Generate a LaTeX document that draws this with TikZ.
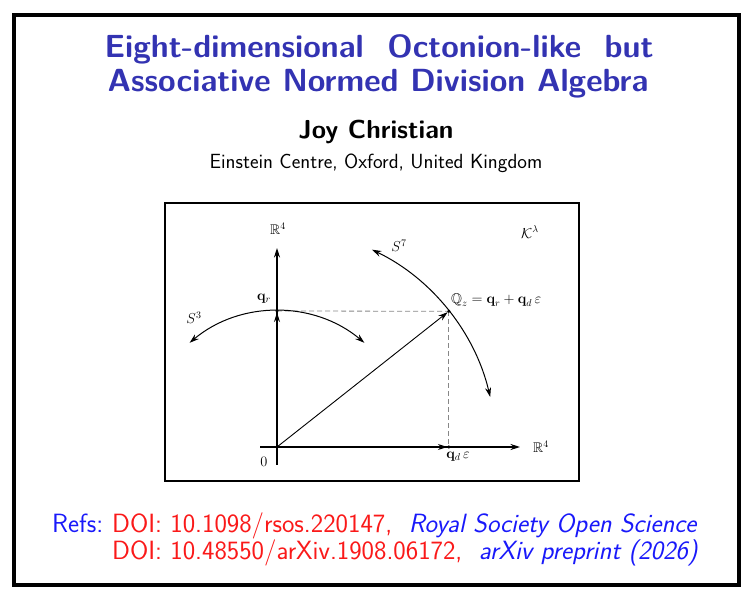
\documentclass[tikz,border=0pt]{standalone}
\usepackage{amsmath,amssymb}
\usetikzlibrary{arrows.meta,calc}
\definecolor{titleblue}{RGB}{51,51,178}
\definecolor{refblue}{RGB}{25,25,250}
\definecolor{refred}{RGB}{250,25,25}
\definecolor{guide}{RGB}{135,135,135}

\begin{document}
\begin{tikzpicture}[
  x=1pt,
  y=1pt,
  >={Stealth[length=9.5pt,width=6pt]},
  outerframe/.style={draw=black, line width=4pt},
  panel/.style={draw=black, line width=2.6pt},
  axisline/.style={draw=black, line width=1.4pt, ->},
  vector/.style={draw=black, line width=0.9pt, ->},
  sphere/.style={draw=black, line width=1pt, <->},
  guideline/.style={draw=guide, line width=0.8pt, dash pattern=on 5pt off 3pt},
  point/.style={circle, fill=black, inner sep=0pt, minimum size=3.5pt},
  mathlabel/.style={font=\fontsize{14}{16}\selectfont, inner sep=0pt},
  titleline/.style={text=titleblue, anchor=base, inner sep=0pt,
    font=\fontsize{32}{36}\selectfont\sffamily\bfseries},
  authorline/.style={anchor=base, inner sep=0pt,
    font=\fontsize{26}{29}\selectfont\sffamily\bfseries},
  placeline/.style={anchor=base, inner sep=0pt,
    font=\fontsize{20.5}{24}\selectfont\sffamily},
  refline/.style={anchor=base west, inner sep=0pt,
    font=\fontsize{26.4}{30}\selectfont\sffamily}
]
  \useasboundingbox (0,0) rectangle (753,600);
  \def\rthree{136}
  \def\rseven{219}

  % Slide frame and heading.
  \draw[outerframe] (14,14.5) rectangle (739,585);
  \node[titleline] (titleA) at (379,542) {Eight-dimensional\ \ Octonion-like\ \ but};
  \node[titleline] (titleB) at (378,508) {Associative Normed Division Algebra};
  \node[authorline] (author) at (376,461) {Joy Christian};
  \node[placeline] (place) at (376,431) {Einstein Centre, Oxford, United Kingdom};

  % Figure panel.
  \draw[panel] (165,397) rectangle (579,119);

  \coordinate (O) at (277,153);
  \coordinate (ybot) at (277,135);
  \coordinate (ytop) at (277,352);
  \coordinate (xleft) at (260,153);
  \coordinate (xright) at (520,153);
  \coordinate (qr) at ($(O)+(90:\rthree)$);
  \coordinate (Qz) at ($(O)+(38.3:\rseven)$);
  \coordinate (qd) at (Qz |- O);
  \coordinate (s3start) at ($(O)+(130:\rthree)$);
  \coordinate (s7start) at ($(O)+(64.3:\rseven)$);

  % Axes.
  \draw[axisline] (ybot) -- (ytop);
  \draw[axisline] (xleft) -- (xright);

  % Projections of the point.
  \draw[guideline] (qr) -- (Qz);
  \draw[guideline] (Qz) -- (qd);

  % Spheres.
  \draw[sphere] (s3start) arc[start angle=130, end angle=50, radius=\rthree];
  \draw[sphere] (s7start) arc[start angle=64.3, end angle=13.2, radius=\rseven];

  % Vectors.
  \draw[vector,shorten >=1.5pt] (O) -- (qr);
  \draw[vector,shorten >=1.5pt] (O) -- (qd);
  \draw[vector,shorten >=1.5pt] (O) -- (Qz);
  \node[point] (dotqr) at (qr) {};
  \node[point] (dotQz) at (Qz) {};
  \node[point] (dotqd) at (qd) {};

  % Labels.
  \node[mathlabel] (lblRup) at (278,371) {$\mathbb{R}^4$};
  \node[mathlabel] (lblRright) at (541,153) {$\mathbb{R}^4$};
  \node[mathlabel] (lblzero) at (264,138) {$0$};
  \node[mathlabel] (lblqr) at (264,301) {$\mathbf{q}_r$};
  \node[mathlabel] (lblS3) at (194,282) {$S^3$};
  \node[mathlabel] (lblS7) at (399,354) {$S^7$};
  \node[mathlabel] (lblK) at (530,368) {$\mathcal{K}^{\lambda}$};
  \node[mathlabel,anchor=base west] (lblQz) at (451,296)
    {$\mathbb{Q}_z=\mathbf{q}_r+\mathbf{q}_d\,\varepsilon$};
  \node[mathlabel] (lblqd) at (458,143) {$\mathbf{q}_d\,\varepsilon$};

  % References.
  \node[refline,text=refblue] (refs) at (52,67) {Refs:};
  \node[refline] (refA) at (112,67)
    {\textcolor{refred}{DOI: 10.1098/rsos.220147,}\ \ \textcolor{refblue}{\itshape Royal Society Open Science}};
  \node[refline] (refB) at (112,40)
    {\textcolor{refred}{DOI: 10.48550/arXiv.1908.06172,}\ \ \textcolor{refblue}{\itshape arXiv preprint (2026)}};
\end{tikzpicture}
\end{document}
